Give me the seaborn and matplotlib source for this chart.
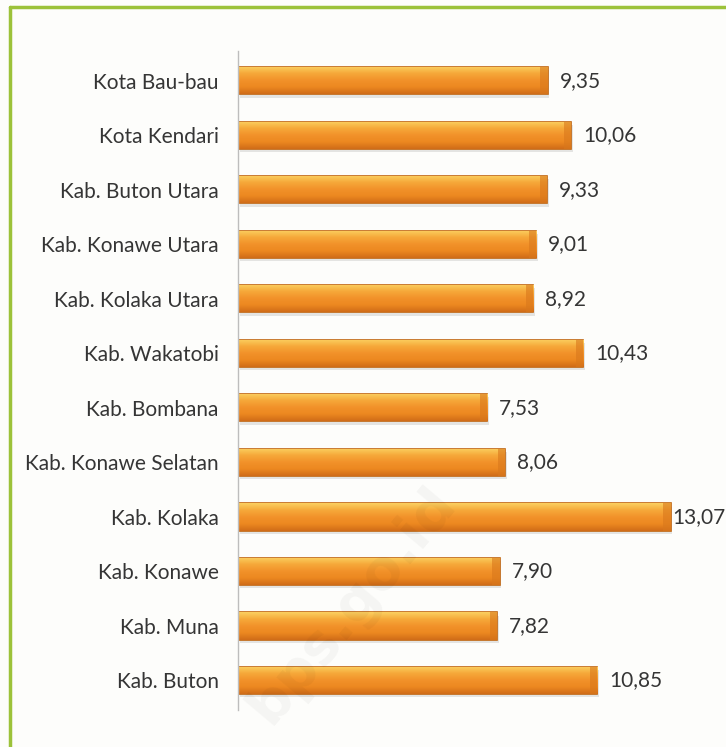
import matplotlib
matplotlib.use("Agg")
import matplotlib.pyplot as plt
import seaborn as sns
import numpy as np
import pandas as pd
from matplotlib.colors import LinearSegmentedColormap
from matplotlib.lines import Line2D

regions = ["Kota Bau-bau", "Kota Kendari", "Kab. Buton Utara", "Kab. Konawe Utara",
           "Kab. Kolaka Utara", "Kab. Wakatobi", "Kab. Bombana", "Kab. Konawe Selatan",
           "Kab. Kolaka", "Kab. Konawe", "Kab. Muna", "Kab. Buton"]
values = [9.35, 10.06, 9.33, 9.01, 8.92, 10.43, 7.53, 8.06, 13.07, 7.90, 7.82, 10.85]

df = pd.DataFrame({"region": regions, "value": values})

sns.set_theme(style="white")
plt.rcParams["font.family"] = ["Lato", "DejaVu Sans"]

fig = plt.figure(figsize=(7.26, 7.47), dpi=100)
fig.patch.set_facecolor("#fdfdfb")
ax = fig.add_axes([0.328, 0.049, 0.672, 0.883])
ax.set_facecolor("none")

sns.barplot(data=df, y="region", x="value", orient="h", ax=ax,
            color="#f0901e", width=0.5, edgecolor="#c0650f", linewidth=1.2)

# glossy gradient on each bar (light on top, darker at the bottom)
grad = LinearSegmentedColormap.from_list(
    "gloss", ["#d06c18", "#ec8820", "#f2922a", "#f6a93a", "#fbd060"])
g = np.linspace(0, 1, 64).reshape(-1, 1)
for p in ax.patches:
    x0, y0 = p.get_x(), p.get_y()
    w, h = p.get_width(), p.get_height()
    # soft shadow
    ax.add_patch(plt.Rectangle((x0 + 0.05, y0 + h * 0.12), w, h, color="#9a9a9a",
                               alpha=0.25, zorder=p.get_zorder() - 0.5, lw=0))
    im = ax.imshow(g, cmap=grad, aspect="auto", extent=(x0, x0 + w, y0, y0 + h),
                   zorder=p.get_zorder() + 0.1, interpolation="bicubic")
    im.set_clip_path(p)
    # darker end cap
    ax.add_patch(plt.Rectangle((x0 + w - 0.22, y0), 0.22, h, color="#d9781c",
                               alpha=0.6, zorder=p.get_zorder() + 0.2, lw=0))

xmax = 14.74
for i, v in enumerate(values):
    xt = v + 0.36 if v + 1.9 < xmax else v + 0.04
    ax.text(xt, i, f"{v:.2f}".replace(".", ","), va="center", ha="left",
            fontsize=15, color="#353535", clip_on=False)

ax.set_xlim(0, xmax)
ax.set_ylim(11.55, -0.55)
ax.set_xlabel("")
ax.set_ylabel("")
ax.set_xticks([])
ax.tick_params(axis="y", length=0, pad=14, labelsize=15, labelcolor="#353535")
for s in ["top", "right", "bottom"]:
    ax.spines[s].set_visible(False)
ax.spines["left"].set_color("#bdbdbd")
ax.spines["left"].set_linewidth(1.0)

# green frame
fig.add_artist(Line2D([10 / 726, 1.0], [1 - 7 / 747, 1 - 7 / 747], color="#9cc23a",
                      lw=2.5, transform=fig.transFigure))
fig.add_artist(Line2D([10 / 726, 10 / 726], [0, 1 - 7 / 747], color="#9cc23a",
                      lw=2.5, transform=fig.transFigure))

# faint watermark
fig.text(0.485, 0.19, "bps.go.id", rotation=50, fontsize=40, fontweight="bold",
         color="#000000", alpha=0.035, ha="center", va="center",
         family=["DejaVu Sans"])

fig.savefig("out.png", dpi=100, facecolor=fig.get_facecolor())
